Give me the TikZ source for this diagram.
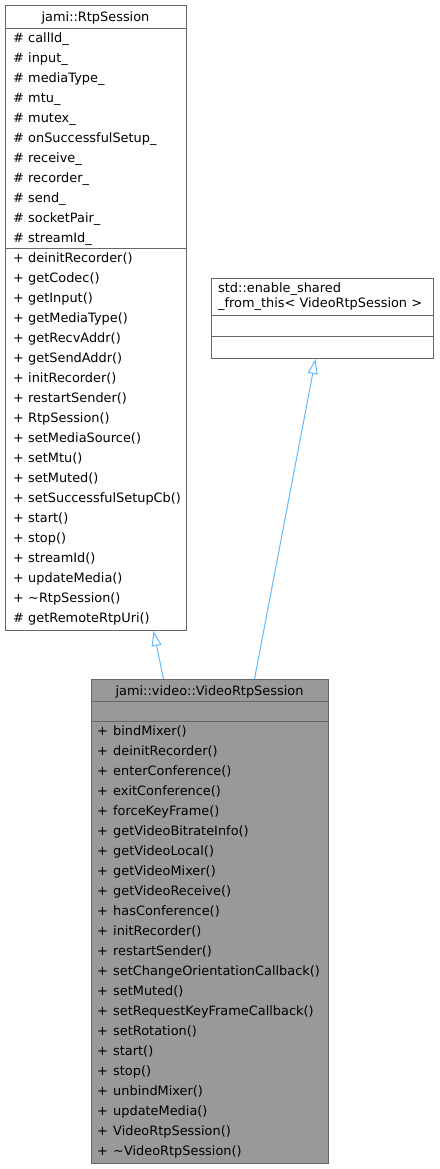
\documentclass[tikz,border=0pt]{standalone}
\usepackage{fontspec}
\setmainfont{DejaVu Sans}
\usetikzlibrary{arrows.meta,calc}
\definecolor{boxline}{HTML}{666666}
\definecolor{boxfill}{HTML}{999999}
\definecolor{edgecol}{HTML}{63B8FF}
\begin{document}
\begin{tikzpicture}[x=1pt,y=-1pt,
  font=\fontsize{12.9}{15}\selectfont,
  cls/.style={draw=boxline, line width=1pt, inner sep=0pt, anchor=north west},
  sep/.style={draw=boxline, line width=1pt},
  txt/.style={anchor=base west, inner sep=0pt, text=black},
  ttl/.style={anchor=base, inner sep=0pt, text=black},
  edge/.style={draw=edgecol, line width=1pt, -{Triangle[open,length=15pt,width=10pt]}}]
\useasboundingbox (0,0) rectangle (439,1169);

% jami::RtpSession
\node[cls, fill=white, minimum width=181pt, minimum height=625pt] (rtp) at (5,5) {};
\draw[sep] (5,29) -- (186,29);
\draw[sep] (5,248) -- (186,248);
\node[ttl] (rtpt) at (95.5,22) {jami::RtpSession};
\foreach \t [count=\i from 0] in {callId\_, input\_, mediaType\_, mtu\_, mutex\_, onSuccessfulSetup\_, receive\_, recorder\_, send\_, socketPair\_, streamId\_} {
  \node[txt] (ras\i) at (13,42.5+20*\i) {\#};
  \node[txt] (ra\i) at (28,42.5+20*\i) {\t};
}
\foreach \s/\t [count=\i from 0] in {+/deinitRecorder(), +/getCodec(), +/getInput(), +/getMediaType(), +/getRecvAddr(), +/getSendAddr(), +/initRecorder(), +/restartSender(), +/RtpSession(), +/setMediaSource(), +/setMtu(), +/setMuted(), +/setSuccessfulSetupCb(), +/start(), +/stop(), +/streamId(), +/updateMedia(), +/\textasciitilde RtpSession(), \#/getRemoteRtpUri()} {
  \node[txt] (rms\i) at (13,262.5+20*\i) {\s};
  \node[txt] (rm\i) at (28,262.5+20*\i) {\t};
}

% std::enable_shared_from_this
\node[cls, fill=white, minimum width=222pt, minimum height=80pt] (esft) at (211,278) {};
\draw[sep] (211,315) -- (433,315);
\draw[sep] (211,336) -- (433,336);
\node[txt] (esft1) at (218,292) {std::enable\_shared};
\node[txt] (esft2) at (218,307) {\_from\_this< VideoRtpSession >};

% jami::video::VideoRtpSession
\node[cls, fill=boxfill, minimum width=237pt, minimum height=484pt] (vrs) at (91,679) {};
\draw[sep] (91,701) -- (328,701);
\draw[sep] (91,721) -- (328,721);
\node[ttl] (vrst) at (209.5,695) {jami::video::VideoRtpSession};
\foreach \t [count=\i from 0] in {bindMixer(), deinitRecorder(), enterConference(), exitConference(), forceKeyFrame(), getVideoBitrateInfo(), getVideoLocal(), getVideoMixer(), getVideoReceive(), hasConference(), initRecorder(), restartSender(), setChangeOrientationCallback(), setMuted(), setRequestKeyFrameCallback(), setRotation(), start(), stop(), unbindMixer(), updateMedia(), VideoRtpSession(), \textasciitilde VideoRtpSession()} {
  \node[txt] (vms\i) at (97,735+20*\i) {+};
  \node[txt] (vm\i) at (113,735+20*\i) {\t};
}

% inheritance edges
\draw[edge] ($(vrs.north)+(-46.5,0)$) -- ($(rtp.south)+(57.5,0)$);
\draw[edge] ($(vrs.north)+(44.5,0)$) -- ($(esft.south)+(-7,0)$);
\end{tikzpicture}
\end{document}
